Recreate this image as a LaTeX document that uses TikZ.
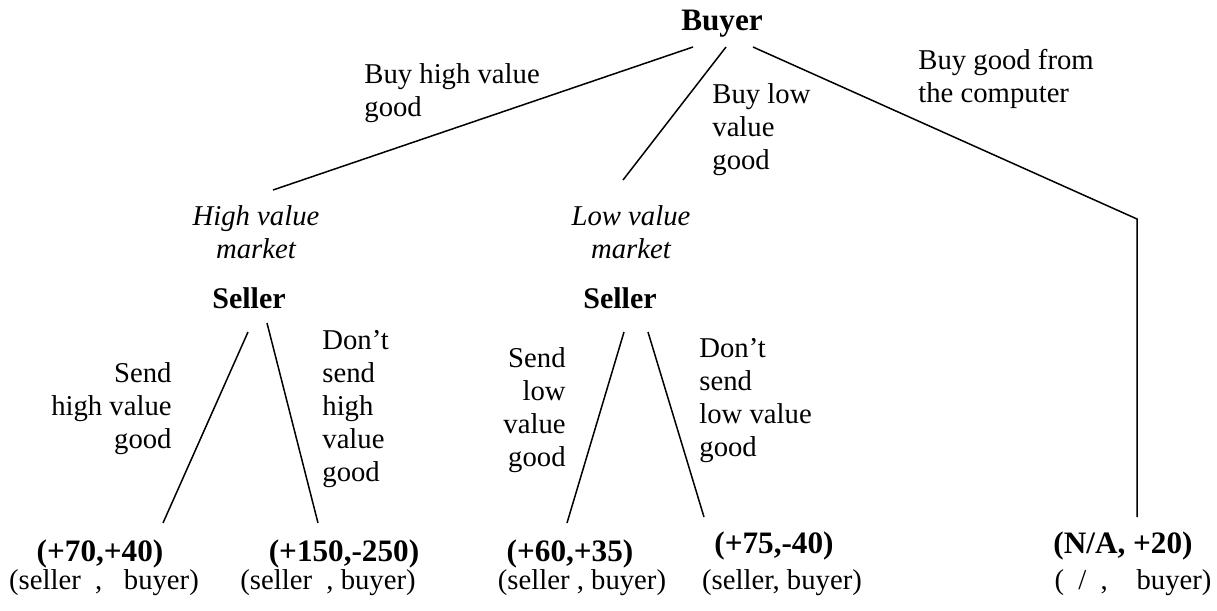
\documentclass[tikz,border=0pt]{standalone}
\usepackage{fontspec}
\setmainfont{Liberation Serif}
\usetikzlibrary{positioning}
\tikzset{
  move/.style={font=\fontsize{14.35}{16.5}\selectfont,inner sep=0pt},
  player/.style={font=\fontsize{15}{18}\selectfont\bfseries,inner sep=0pt,
    anchor=base},
  market/.style={font=\fontsize{14.35}{16.5}\selectfont\itshape,inner sep=0pt,
    align=center,anchor=north},
  payoff/.style={font=\fontsize{15.6}{18}\selectfont\bfseries,inner sep=0pt,
    anchor=base},
  order/.style={font=\fontsize{14.35}{16.5}\selectfont,inner sep=0pt,
    anchor=base},
  branch/.style={line width=0.75pt,black}
}

\begin{document}
\begin{tikzpicture}[x=0.5pt,y=-0.5pt]
\useasboundingbox (0,0) rectangle (1217,611);

% Players
\node[player,font=\fontsize{15.6}{18}\selectfont\bfseries] (buyer) at (722,30) {Buyer};
\node[player] (sellerH) at (249,308) {Seller};
\node[player] (sellerL) at (620,308) {Seller};

% Markets
\node[market] (marketH) at (256,205.5) {High value\\market};
\node[market] (marketL) at (631,205.5) {Low value\\market};

% Buyer moves
\node[move,align=left,anchor=north west] (buyH) at (364,63.5) {Buy high value\\good};
\node[move,align=left,anchor=north west] (buyL) at (712,83.5) {Buy low\\value\\good};
\node[move,align=left,anchor=north west] (buyC) at (918,48.5) {Buy good from\\the computer};

% Seller moves
\node[move,align=right,anchor=north east] (sendH) at (172,362.5) {Send\\high value\\good};
\node[move,align=left,anchor=north west] (keepH) at (322,330.5) {Don’t\\send\\high\\value\\good};
\node[move,align=right,anchor=north east] (sendL) at (566,347.5) {Send\\low\\value\\good};
\node[move,align=left,anchor=north west] (keepL) at (699,338.5) {Don’t\\send\\low value\\good};

% Payoffs
\node[payoff] (payA) at (100,561) {(+70,+40)};
\node[payoff] (payB) at (344,561) {(+150,-250)};
\node[payoff] (payC) at (570,561) {(+60,+35)};
\node[payoff] (payD) at (774,553) {(+75,-40)};
\node[payoff] (payE) at (1123,553) {(N/A, +20)};
\node[order] (ordA) at (104,589) {(seller~~,~~~buyer)};
\node[order] (ordB) at (328,589) {(seller~~, buyer)};
\node[order] (ordC) at (582,589) {(seller , buyer)};
\node[order] (ordD) at (782,589) {(seller, buyer)};
\node[order] (ordE) at (1133,589) {(~~/~~,~~~~buyer)};

% Branch ends
\coordinate (bH) at (693,47);
\coordinate (bL) at (726,47);
\coordinate (bC) at (753,47);
\coordinate (mH) at (273,190);
\coordinate (mL) at (623,180);
\coordinate (kink) at (1137,219);
\coordinate (eC) at (1137,517);
\coordinate (sH1) at (248,332);
\coordinate (sH2) at (267,323);
\coordinate (eA) at (163,523);
\coordinate (eB) at (318,523);
\coordinate (sL1) at (624,332);
\coordinate (sL2) at (648,332);
\coordinate (eCc) at (567,523);
\coordinate (eD) at (704,517);

\draw[branch] (bH) -- (mH);
\draw[branch] (bL) -- (mL);
\draw[branch] (bC) -- (kink) -- (eC);
\draw[branch] (sH1) -- (eA);
\draw[branch] (sH2) -- (eB);
\draw[branch] (sL1) -- (eCc);
\draw[branch] (sL2) -- (eD);

\end{tikzpicture}
\end{document}
